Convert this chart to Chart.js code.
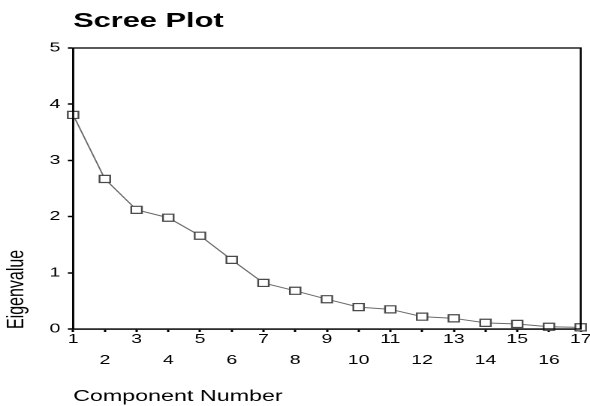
<!DOCTYPE html>
<html>
<head>
<meta charset="utf-8">
<script src="https://cdn.jsdelivr.net/npm/chart.js@4.4.1/dist/chart.umd.min.js"></script>
<style>
  html, body { margin: 0; padding: 0; background: #fff; overflow: hidden; }
  /* the reference is a horizontally stretched screenshot, so the chart is drawn narrow and widened */
  #wrap { width: 393px; height: 406px; transform: scaleX(1.5013); transform-origin: 0 0; }
</style>
</head>
<body>
<div id="wrap"><canvas id="scree"></canvas></div>
<script>
const components = ["1", "2", "3", "4", "5", "6", "7", "8", "9", "10", "11", "12", "13", "14", "15", "16", "17"];
const eigenvalues = [3.81, 2.67, 2.12, 1.98, 1.66, 1.23, 0.82, 0.68, 0.53, 0.39, 0.35, 0.22, 0.19, 0.11, 0.09, 0.04, 0.03];
const yTicks = [0, 1, 2, 3, 4, 5];

const FONT = "'Liberation Sans', Arial, sans-serif";

// box around the plot (top + right sides)
const framePlugin = {
  id: "frame",
  afterDraw(chart) {
    const { ctx, chartArea: a } = chart;
    ctx.save();
    ctx.strokeStyle = "#000";
    ctx.lineWidth = 1.3;
    ctx.strokeRect(a.left, a.top, a.right - a.left, a.bottom - a.top);
    ctx.restore();
  },
};

new Chart(document.getElementById("scree"), {
  type: "line",
  data: {
    labels: components,
    datasets: [
      {
        data: eigenvalues,
        borderColor: "#6a6a6a",
        borderWidth: 1,
        pointStyle: "rect",
        pointRadius: 5,
        pointBorderColor: "#4a4a4a",
        pointBorderWidth: 1.2,
        pointBackgroundColor: "#fff",
        tension: 0,
        clip: false,
      },
    ],
  },
  options: {
    responsive: true,
    maintainAspectRatio: false,
    animation: false,
    devicePixelRatio: 2,
    layout: { padding: { left: 0, right: 5, top: 0, bottom: 0 } },
    plugins: {
      legend: { display: false },
      tooltip: { enabled: false },
      title: {
        display: true,
        text: "Scree Plot",
        align: "start",
        fullSize: false,
        color: "#000",
        font: { family: FONT, size: 20.5, weight: "bold", lineHeight: 1.2 },
        padding: { top: 8.8, bottom: 14.6 },
      },
    },
    scales: {
      x: {
        type: "category",
        offset: false,
        border: { color: "#000", width: 1.3 },
        grid: { drawOnChartArea: false, tickLength: 3, tickColor: "#000", tickWidth: 1.5 },
        ticks: {
          autoSkip: false,
          maxRotation: 0,
          padding: 2,
          color: "#000",
          font: { family: FONT, size: 13, lineHeight: "10.5px" },
          // odd numbers on the first row, even numbers on the second
          callback: (v, i) => (i % 2 === 0 ? [components[i]] : ["", "", components[i]]),
        },
        title: {
          display: true,
          text: "Component Number",
          align: "start",
          color: "#000",
          font: { family: FONT, size: 15.5, lineHeight: 1.2 },
          padding: { top: 0, bottom: 0 },
        },
        afterFit: (s) => {
          s.height = 77;
          s.paddingRight = 0;
        },
      },
      y: {
        min: 0,
        max: 5,
        border: { color: "#000", width: 1.3 },
        grid: { drawOnChartArea: false, tickLength: 3.5, tickColor: "#000", tickWidth: 1.5 },
        afterBuildTicks: (s) => {
          s.ticks = yTicks.map((v) => ({ value: v }));
        },
        ticks: {
          padding: 5,
          color: "#000",
          font: { family: FONT, size: 13 },
        },
        title: {
          display: true,
          text: "Eigenvalue",
          align: "start",
          color: "#000",
          font: { family: FONT, size: 16, lineHeight: 1.2 },
          padding: { top: 1.5, bottom: 0 },
        },
        afterFit: (s) => {
          s.width = 48.7;
        },
      },
    },
  },
  plugins: [framePlugin],
});
</script>
</body>
</html>
